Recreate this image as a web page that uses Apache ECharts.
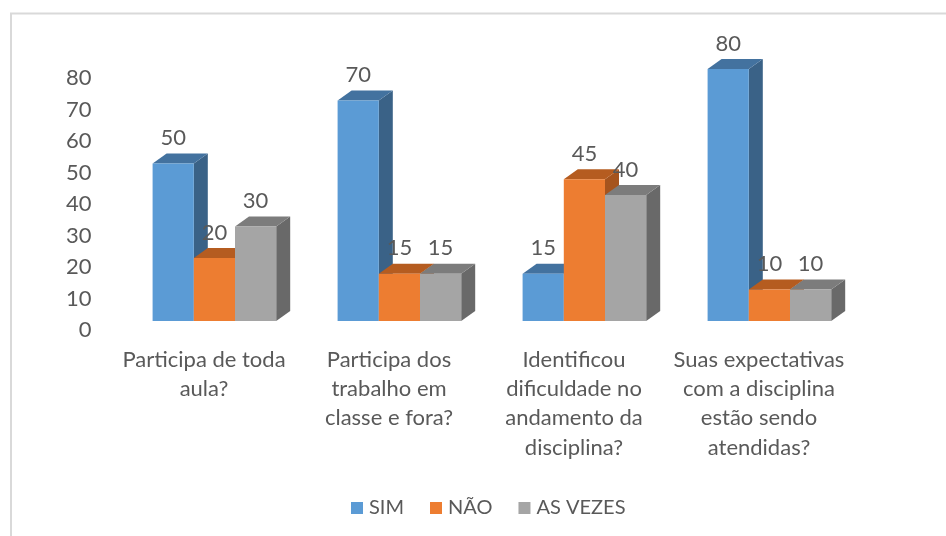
<!DOCTYPE html>
<html>
<head>
<meta charset="utf-8">
<style>html,body{margin:0;padding:0;background:#fff}#c{width:946px;height:536px}</style>
<script src="https://cdn.jsdelivr.net/npm/echarts@6/dist/echarts.min.js"></script>
</head>
<body>
<div id="c"></div>
<script>
var categories = ['Participa de toda\naula?', 'Participa dos\ntrabalho em\nclasse e fora?', 'Identificou\ndificuldade no\nandamento da\ndisciplina?', 'Suas expectativas\ncom a disciplina\nestão sendo\natendidas?'];
var sim = [50, 70, 15, 80];
var nao = [20, 15, 45, 10];
var asVezes = [30, 15, 40, 10];
var yTicks = {min: 0, max: 80, interval: 10};
var FONT = 'Lato';
var TEXT = '#595959';
var DEPTH_X = 14, DEPTH_Y = 10, SHIFT_X = 10.4, SHIFT_Y = 9, BAR_W = 41.2;

function bar3d(index, front, top, side) {
  return function (params, api) {
    var base = api.coord([api.value(0), 0]);
    var head = api.coord([api.value(0), api.value(1)]);
    var l = base[0] + SHIFT_X + (index - 1.5) * BAR_W, r = l + BAR_W;
    var b = base[1] - SHIFT_Y, t = head[1] - SHIFT_Y;
    return {type: 'group', children: [
      {type: 'polygon', shape: {points: [[r, b], [r + DEPTH_X, b - DEPTH_Y], [r + DEPTH_X, t - DEPTH_Y], [r, t]]}, style: {fill: side}},
      {type: 'polygon', shape: {points: [[l, t], [l + DEPTH_X, t - DEPTH_Y], [r + DEPTH_X, t - DEPTH_Y], [r, t]]}, style: {fill: top}},
      {type: 'rect', shape: {x: l, y: t, width: BAR_W, height: b - t}, style: {fill: front}},
      {type: 'text', z2: 100, style: {text: String(api.value(1)), x: (l + r) / 2, y: t - 25.5, align: 'center', verticalAlign: 'middle', fill: TEXT, font: '22px ' + FONT}}
    ]};
  };
}
function series(name, values, index, front, top, side) {
  return {
    type: 'custom', name: name,
    itemStyle: {color: front},
    encode: {x: 0, y: 1},
    data: values.map(function (v, i) { return [i, v]; }),
    renderItem: bar3d(index, front, top, side)
  };
}
var chart = echarts.init(document.getElementById('c'), null, {renderer: 'canvas'});
chart.setOption({
  animation: false,
  backgroundColor: '#fff',
  graphic: [
    {type: 'polyline', shape: {points: [[11, 540], [11, 13.5], [950, 13.5]]}, style: {stroke: '#d9d9d9', lineWidth: 2, fill: null}}
  ],
  legend: {
    left: 346, top: 493, icon: 'rect', itemWidth: 12, itemHeight: 12, itemGap: 26,
    textStyle: {color: TEXT, fontFamily: FONT, fontSize: 20, padding: [0, 0, 0, 1]},
    data: ['SIM', 'NÃO', 'AS VEZES']
  },
  grid: {left: 111.5, right: 94.5, top: 78, bottom: 206},
  xAxis: {
    type: 'category', data: categories,
    axisLine: {show: false}, axisTick: {show: false},
    axisLabel: {interval: 0, color: TEXT, fontFamily: FONT, fontSize: 22, lineHeight: 29.3, margin: 15, verticalAlign: 'top'}
  },
  yAxis: {
    type: 'value', min: yTicks.min, max: yTicks.max, interval: yTicks.interval,
    axisLine: {show: false}, axisTick: {show: false}, splitLine: {show: false},
    axisLabel: {color: TEXT, fontFamily: FONT, fontSize: 22, margin: 20}
  },
  series: [
    series('SIM', sim, 0, '#5b9bd5', '#43729f', '#3a6287'),
    series('NÃO', nao, 1, '#ed7d31', '#b55c20', '#a5541e'),
    series('AS VEZES', asVezes, 2, '#a5a5a5', '#7c7c7c', '#696969')
  ]
});
</script>
</body>
</html>
